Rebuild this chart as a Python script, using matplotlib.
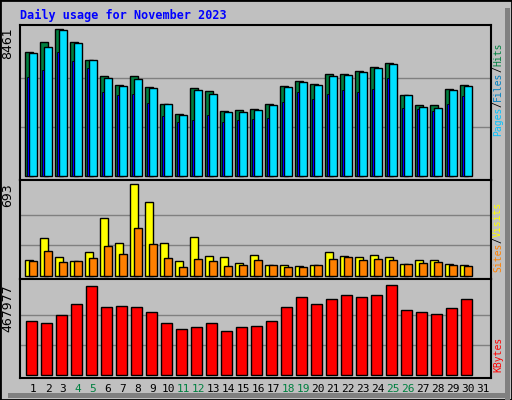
import matplotlib
matplotlib.use("Agg")
import matplotlib.pyplot as plt
from matplotlib.patches import Rectangle

days = list(range(1, 32))
hits = [7140,7720,8461,7720,6680,5760,5240,5760,5130,4150,3570,5070,4900,3740,3800,3860,4150,5180,5470,5300,5880,5880,6050,6280,6510,4670,4090,4090,5010,5240]
files = [7085,7430,8410,7660,6680,5645,5185,5590,5070,4150,3515,4955,4725,3690,3690,3800,4090,5125,5415,5240,5760,5820,5990,6220,6450,4665,3975,3915,4955,5185]
pages = [5700,6105,7140,6625,6220,4840,4665,4720,4205,3455,3110,3225,3515,3110,3225,3285,3340,4260,4840,4435,4720,4955,4840,5010,5645,3915,3860,3745,4150,4610]
visits = [120,286,143,113,181,437,248,693,557,248,113,294,151,143,98,158,83,83,75,83,181,151,143,158,143,90,120,120,90,83]
sites = [113,188,105,113,136,226,166,361,241,136,68,128,113,75,83,120,83,68,68,83,128,143,120,128,120,90,98,105,83,75]
kbytes = [280800,270400,312000,369200,462000,353600,358800,353600,327600,270400,239200,249600,270400,228800,249600,254800,280800,353600,405600,369200,395200,416000,405600,416000,467977,338000,327600,317200,348400,395200]
weekends = [4,5,11,12,18,19,25,26]

W, H = 512, 400
fig = plt.figure(figsize=(W/100, H/100), dpi=100, facecolor="#c0c0c0")
mono = "DejaVu Sans Mono"

fig.patches.append(Rectangle((0, 0), 1, 1, transform=fig.transFigure, fill=False, ec="black", lw=2))
fig.patches.append(Rectangle((505/W, 0), 5/W, (H-8)/H, transform=fig.transFigure, fc="#808080", ec="none"))
fig.patches.append(Rectangle((8/W, 2/H), 502/W, 5/H, transform=fig.transFigure, fc="#808080", ec="none"))

def ax_at(top, bottom):
    return fig.add_axes([20/W, 1-bottom/H, (491-20)/W, (bottom-top)/H])

xl = (0.133, 31.53)
def style(ax, mx, lo, hi, label):
    ax.set_facecolor("#c0c0c0")
    ax.set_xlim(*xl)
    ax.set_ylim(-lo*mx, mx*(1+hi))
    ax.set_xticks([]); ax.set_yticks([])
    for y in (mx/3, 2*mx/3):
        ax.axhline(y, color="#808080", lw=1, zorder=0)
    for s in ax.spines.values():
        s.set_color("black"); s.set_linewidth(1.5)
    ax.text(-0.012, 1-hi/(1+lo+hi)+0.01, label, transform=ax.transAxes, rotation=90,
            ha="right", va="top", fontsize=9, family="DejaVu Sans")

d = days[:len(hits)]
ax1 = ax_at(25, 180)
ax1.bar([x-0.53 for x in d], hits, width=0.53, align="edge", color="#008040", ec="black", lw=1)
ax1.bar([x-0.27 for x in d], files, width=0.54, align="edge", color="#00e0ff", ec="black", lw=1)
ax1.bar([x-0.41 for x in d], pages, width=0.13, align="edge", color="#0000ff", ec="black", lw=0.6)
style(ax1, 8461, 4/147, 4/147, "8461")

ax2 = ax_at(180, 279)
ax2.bar([x-0.53 for x in d], visits, width=0.53, align="edge", color="#ffff00", ec="black", lw=1)
ax2.bar([x-0.27 for x in d], sites, width=0.54, align="edge", color="#ff8000", ec="black", lw=1)
style(ax2, 693, 3/92, 4/92, "693")

ax3 = ax_at(279, 378)
ax3.bar([x-0.47 for x in d], kbytes, width=0.74, align="edge", color="#ff0000", ec="black", lw=1)
style(ax3, 467977, 3/90, 6/90, "467977")

for day in days:
    xp = (33 + 15*(day-1))/W
    fig.text(xp, 1-389/H, str(day), ha="center", va="center", fontsize=8, family=mono,
             color="#008040" if day in weekends else "black")

fig.text(20/W, 1-15/H, "Daily usage for November 2023", ha="left", va="center",
         fontsize=8.5, family=mono, weight="bold", color="#0000ff")

FS = 7
ADV = 0.602 * FS * 100 / 72
def stacked(parts, ybottom):
    y = ybottom
    for txt, col in parts:
        n = len(txt)
        fig.text(498/W, 1-(y - n*ADV/2)/H, txt, rotation=90, ha="center", va="center",
                 fontsize=FS, family=mono, color=col)
        y -= n*ADV
stacked([("Pages", "#00c0ff"), ("/", "black"), ("Files", "#0080c0"), ("/", "black"), ("Hits", "#008040")], 136)
stacked([("Sites", "#ff8000"), ("/", "black"), ("Visits", "#ffff00")], 272)
stacked([("KBytes", "#ff0000")], 372)

fig.savefig("out.png", dpi=100, facecolor=fig.get_facecolor())
